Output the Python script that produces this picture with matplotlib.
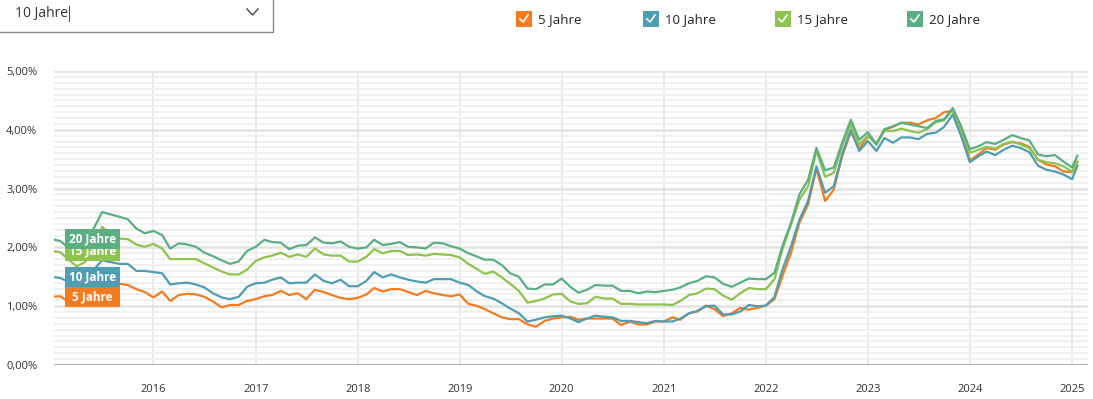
import numpy as np
import pandas as pd
import matplotlib.pyplot as plt
import matplotlib.transforms as mtransforms
from matplotlib.patches import Rectangle
from matplotlib.lines import Line2D

plt.rcParams['font.family'] = ['Open Sans', 'DejaVu Sans']

# monthly rates Jan 2015 .. Jan 2025, plus the last (partial) reading
dates = list(pd.date_range('2015-01-01', '2025-01-01', freq='MS')) + [pd.Timestamp('2025-01-20')]

rate_5 = [1.16, 1.17, 1.08, 1.02, 1.12, 1.25, 1.42, 1.40, 1.38, 1.36,
          1.29, 1.24, 1.15, 1.25, 1.09, 1.19, 1.21, 1.20, 1.16, 1.08,
          0.98, 1.02, 1.02, 1.09, 1.12, 1.17, 1.19, 1.26, 1.19, 1.22,
          1.12, 1.28, 1.24, 1.19, 1.14, 1.12, 1.14, 1.20, 1.31, 1.25,
          1.29, 1.29, 1.24, 1.19, 1.26, 1.22, 1.19, 1.17, 1.20, 1.04,
          1.01, 0.95, 0.88, 0.81, 0.78, 0.78, 0.69, 0.65, 0.75, 0.79,
          0.81, 0.82, 0.77, 0.79, 0.79, 0.79, 0.79, 0.68, 0.74, 0.69,
          0.69, 0.74, 0.74, 0.81, 0.77, 0.88, 0.91, 1.01, 0.95, 0.83,
          0.88, 0.97, 0.94, 0.97, 1.01, 1.12, 1.51, 1.91, 2.42, 2.73,
          3.34, 2.79, 2.98, 3.55, 3.96, 3.68, 3.89, 3.77, 4.00, 4.05,
          4.12, 4.12, 4.09, 4.16, 4.20, 4.30, 4.32, 3.98, 3.48, 3.58,
          3.69, 3.66, 3.75, 3.79, 3.77, 3.71, 3.49, 3.41, 3.38, 3.29,
          3.28, 3.45]

rate_10 = [1.50, 1.48, 1.42, 1.35, 1.45, 1.62, 1.78, 1.75, 1.72, 1.72,
           1.60, 1.60, 1.58, 1.56, 1.37, 1.39, 1.40, 1.37, 1.32, 1.22,
           1.15, 1.12, 1.16, 1.33, 1.39, 1.40, 1.45, 1.49, 1.39, 1.40,
           1.40, 1.54, 1.43, 1.39, 1.45, 1.34, 1.34, 1.43, 1.58, 1.49,
           1.54, 1.49, 1.45, 1.42, 1.40, 1.46, 1.46, 1.46, 1.40, 1.36,
           1.26, 1.17, 1.13, 1.05, 0.96, 0.88, 0.74, 0.77, 0.81, 0.83,
           0.84, 0.79, 0.73, 0.79, 0.84, 0.82, 0.81, 0.75, 0.75, 0.73,
           0.71, 0.75, 0.74, 0.74, 0.79, 0.88, 0.92, 1.00, 1.01, 0.86,
           0.86, 0.91, 1.02, 1.00, 1.01, 1.16, 1.62, 2.02, 2.47, 2.79,
           3.38, 2.93, 3.04, 3.58, 4.00, 3.64, 3.81, 3.64, 3.86, 3.78,
           3.87, 3.87, 3.84, 3.93, 3.95, 4.05, 4.26, 3.89, 3.45, 3.55,
           3.63, 3.57, 3.66, 3.73, 3.69, 3.62, 3.39, 3.32, 3.29, 3.24,
           3.16, 3.39]

rate_15 = [1.94, 1.92, 1.80, 1.68, 1.75, 2.00, 2.35, 2.22, 2.15, 2.14,
           2.05, 2.01, 2.06, 1.98, 1.80, 1.80, 1.80, 1.80, 1.73, 1.66,
           1.59, 1.54, 1.54, 1.62, 1.77, 1.83, 1.86, 1.91, 1.84, 1.88,
           1.84, 1.98, 1.88, 1.86, 1.86, 1.76, 1.76, 1.84, 1.97, 1.90,
           1.94, 1.94, 1.87, 1.88, 1.86, 1.89, 1.88, 1.87, 1.83, 1.72,
           1.64, 1.55, 1.59, 1.49, 1.38, 1.26, 1.06, 1.09, 1.13, 1.20,
           1.21, 1.08, 1.04, 1.05, 1.16, 1.13, 1.13, 1.04, 1.04, 1.03,
           1.03, 1.03, 1.03, 1.02, 1.09, 1.19, 1.22, 1.30, 1.29, 1.18,
           1.11, 1.22, 1.31, 1.29, 1.29, 1.46, 1.96, 2.39, 2.81, 3.04,
           3.64, 3.20, 3.27, 3.72, 4.09, 3.75, 3.90, 3.75, 3.98, 3.98,
           4.02, 3.98, 3.95, 4.01, 4.13, 4.16, 4.34, 4.00, 3.61, 3.66,
           3.71, 3.68, 3.76, 3.80, 3.75, 3.69, 3.49, 3.45, 3.43, 3.38,
           3.29, 3.46]

rate_20 = [2.14, 2.11, 2.00, 1.95, 2.08, 2.32, 2.60, 2.56, 2.52, 2.48,
           2.32, 2.24, 2.28, 2.21, 1.98, 2.07, 2.05, 2.01, 1.91, 1.85,
           1.78, 1.72, 1.76, 1.94, 2.01, 2.13, 2.09, 2.08, 1.97, 2.03,
           2.04, 2.17, 2.08, 2.07, 2.10, 2.01, 1.98, 2.00, 2.13, 2.04,
           2.06, 2.09, 2.01, 2.00, 1.98, 2.08, 2.07, 2.02, 1.98, 1.90,
           1.85, 1.79, 1.79, 1.70, 1.56, 1.50, 1.30, 1.29, 1.37, 1.37,
           1.47, 1.33, 1.23, 1.28, 1.36, 1.35, 1.35, 1.26, 1.26, 1.22,
           1.25, 1.24, 1.26, 1.28, 1.32, 1.39, 1.43, 1.51, 1.49, 1.38,
           1.33, 1.40, 1.47, 1.46, 1.46, 1.57, 2.02, 2.42, 2.90, 3.15,
           3.69, 3.31, 3.36, 3.78, 4.17, 3.83, 3.96, 3.75, 4.01, 4.06,
           4.12, 4.09, 4.06, 4.03, 4.15, 4.18, 4.37, 4.06, 3.67, 3.72,
           3.79, 3.76, 3.83, 3.91, 3.86, 3.82, 3.58, 3.55, 3.57, 3.46,
           3.36, 3.56]

names = ['5 Jahre', '10 Jahre', '15 Jahre', '20 Jahre']
colors = ['#f47b20', '#4e9db3', '#8dc44e', '#5aae82']
series = [rate_5, rate_10, rate_15, rate_20]

year_ticks = [pd.Timestamp(f'{y}-01-01') for y in range(2016, 2026)]
year_labels = [str(y) for y in range(2016, 2026)]
y_ticks = [0, 1, 2, 3, 4, 5]
y_labels = ['0,00%', '1,00%', '2,00%', '3,00%', '4,00%', '5,00%']

W, H = 1093, 399
fig = plt.figure(figsize=(W / 100, H / 100), dpi=100)


def fx(px):
    return px / W


def fy(py):
    return 1 - py / H


ax = fig.add_axes([fx(54), fy(365), fx(1088) - fx(54), fy(71) - fy(365)])

for vals, col in zip(series, colors):
    ax.plot(dates, vals, color=col, lw=1.6, zorder=3, solid_joinstyle='round')

ax.set_xlim(pd.Timestamp('2015-01-10'), pd.Timestamp('2025-02-27'))
ax.set_ylim(0, 5)

ax.set_yticks(y_ticks)
ax.set_yticklabels(y_labels)
ax.set_yticks(np.arange(0, 5.01, 0.1), minor=True)
ax.set_xticks(year_ticks)
ax.set_xticklabels(year_labels)

ax.grid(axis='y', which='minor', color='#efefef', lw=1.3, zorder=0)
ax.grid(axis='y', which='major', color='#e2e2e2', lw=1.8, zorder=0)
ax.grid(axis='x', which='major', color='#e6e6e6', lw=1.2, zorder=0)
ax.axhline(0, color='#a8a8a8', lw=2, zorder=2)

for s in ax.spines.values():
    s.set_visible(False)
ax.tick_params(axis='both', which='both', length=0)
ax.tick_params(axis='y', labelsize=8, pad=12, colors='#333333')
ax.tick_params(axis='x', labelsize=8, pad=14, colors='#333333')

# series name tags at the left edge, at each line's first value
trans = mtransforms.blended_transform_factory(ax.transAxes, ax.transData)
box_h = 0.35
for i, (vals, name, col) in enumerate(zip(series, names, colors)):
    y0 = vals[0]
    ax.add_patch(Rectangle((11 / 1034, y0 - box_h / 2), 55 / 1034, box_h,
                           transform=trans, facecolor=col, edgecolor='none', zorder=5 + 2 * i))
    ax.text(38.5 / 1034, y0, name, transform=trans, ha='center', va='center',
            color='white', fontsize=8.5, fontweight='bold', zorder=6 + 2 * i)

# dropdown box
fig.patches.append(Rectangle((fx(-5), fy(32)), fx(278), fy(-5) - fy(32), transform=fig.transFigure,
                             facecolor='white', edgecolor='#8a8a8a', lw=1))
fig.text(fx(15), fy(13), '10 Jahre', fontsize=10, color='#333333', va='center', ha='left')
fig.lines.append(Line2D([fx(69), fx(69)], [fy(6), fy(21)], transform=fig.transFigure,
                        color='#555555', lw=0.8))
fig.lines.append(Line2D([fx(247), fx(252.5), fx(258)], [fy(9), fy(15), fy(9)],
                        transform=fig.transFigure, color='#555555', lw=1.1))

# legend with checkboxes
legend_x = [516, 643, 775, 907]
for lx, name, col in zip(legend_x, names, colors):
    fig.patches.append(Rectangle((fx(lx), fy(27)), fx(16), fy(11) - fy(27),
                                 transform=fig.transFigure, facecolor=col, edgecolor='none'))
    fig.lines.append(Line2D([fx(lx + 4), fx(lx + 7), fx(lx + 12)], [fy(19), fy(22), fy(15)],
                            transform=fig.transFigure, color='white', lw=1.2))
    fig.text(fx(lx + 22), fy(19.5), name, fontsize=9.5, color='#222222', va='center', ha='left')

fig.savefig('out.png', dpi=100)
